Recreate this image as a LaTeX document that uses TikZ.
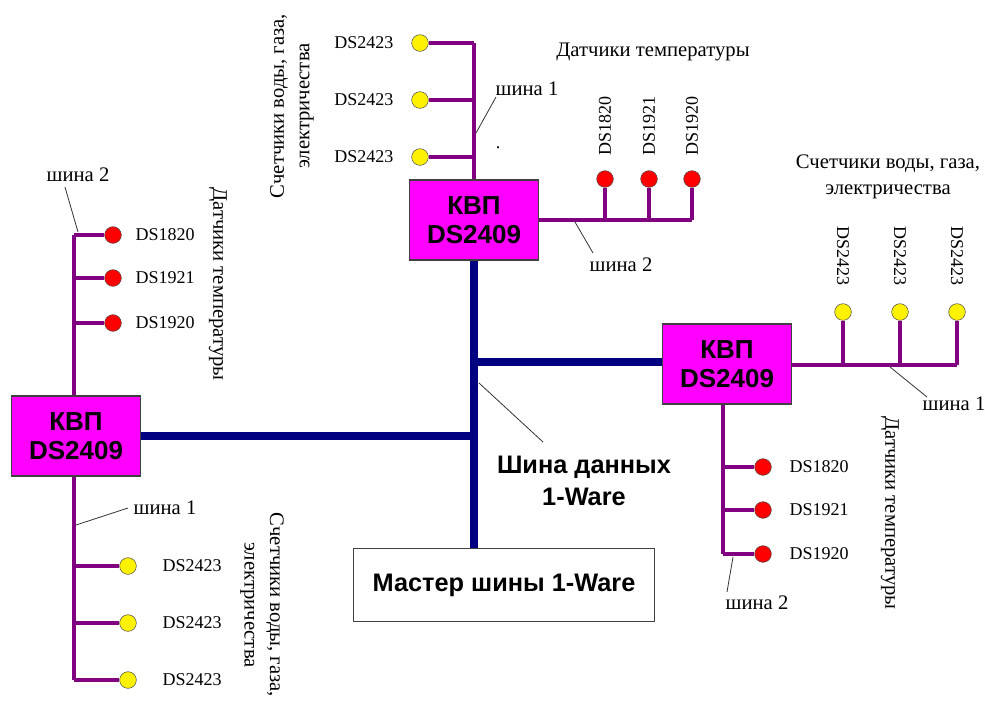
\documentclass[tikz,border=0pt]{standalone}
\usepackage{fontspec}
\setmainfont{Liberation Serif}
\newfontfamily\arialfont{Liberation Sans}
\usepackage{xcolor}
\usetikzlibrary{positioning}

\definecolor{busblue}{RGB}{0,0,128}
\definecolor{netpurple}{RGB}{128,0,128}
\definecolor{boxpink}{RGB}{255,0,255}

\begin{document}
\begin{tikzpicture}[x=0.75pt,y=-0.75pt,
    kvp/.style={draw=black!75, line width=0.8pt, fill=boxpink, minimum width=97pt, minimum height=60pt,
        align=center, font=\arialfont\bfseries\fontsize{19.5}{22}\selectfont},
    master/.style={draw=black!75, line width=0.8pt, fill=white, minimum width=226pt, minimum height=55pt,
        font=\arialfont\bfseries\fontsize{19}{22}\selectfont},
    mainbus/.style={busblue, line width=5.5pt},
    subbus/.style={netpurple, line width=3.3pt},
    ydot/.style={circle, draw=black!70, fill=yellow, inner sep=0pt, minimum size=12.5pt},
    rdot/.style={circle, draw=black!70, fill=red, inner sep=0pt, minimum size=12.5pt},
    lbl/.style={font=\fontsize{13.5}{18}\selectfont},
    cyrlbl/.style={font=\fontsize{15.5}{19}\selectfont},
    lead/.style={black!80, line width=0.6pt}]
    \useasboundingbox (0,0) rectangle (985,701);

    % Boxes
    \node[kvp] (kvpT) at (474,220) {КВП\\DS2409};
    \node[kvp] (kvpL) at (76,436) {КВП\\DS2409};
    \node[kvp] (kvpR) at (727,364) {КВП\\DS2409};
    \node[master] (master) at (504,585) {Мастер шины 1-Ware};

    % Main bus 1-Ware
    \coordinate (jR) at (474,362);
    \coordinate (jL) at (474,436);
    \draw[mainbus] (kvpT.south) -- (kvpT.south |- master.north);
    \draw[mainbus] (jR) -- (kvpR.west |- jR);
    \draw[mainbus] (jL) -- (kvpL.east);
    \coordinate (busTip) at (479,383);
    \coordinate (busLblTip) at (543,442);
    \draw[lead] (busTip) -- (busLblTip);
    \node[align=center, font=\arialfont\bfseries\fontsize{19}{24}\selectfont] (busLbl) at (584,481) {Шина данных\\1-Ware};

    % Top KVP, bus 1: counters
    \coordinate (jT1) at (474,43);
    \coordinate (jT2) at (474,100);
    \coordinate (jT3) at (474,157);
    \draw[subbus] (kvpT.north) -- (jT1);
    \node[ydot] (dT1) at (420,43) {};
    \node[ydot] (dT2) at (420,100) {};
    \node[ydot] (dT3) at (420,157) {};
    \foreach \i in {1,2,3} {
        \draw[subbus] (jT\i) -- (dT\i);
        \node[lbl, left=10pt of dT\i] (lT\i) {DS2423};
    }
    \node[cyrlbl, rotate=90, align=center] (cntT) at (292,106) {Счетчики воды, газа,\\электричества};
    \coordinate (tapT1) at (476,133);
    \coordinate (tipT1) at (496,97);
    \draw[lead] (tapT1) -- (tipT1);
    \node[cyrlbl] (shT1) at (527,89) {шина 1};
    \node[lbl] (dotT) at (498,148) {.};

    % Top KVP, bus 2: temperature sensors
    \coordinate (jTR1) at (605,220);
    \coordinate (jTR2) at (649,220);
    \coordinate (jTR3) at (692,220);
    \draw[subbus] (kvpT.east |- jTR1) -- (jTR3);
    \node[rdot] (dTR1) at (605,179) {};
    \node[rdot] (dTR2) at (649,179) {};
    \node[rdot] (dTR3) at (692,179) {};
    \draw[subbus] (jTR1) -- (dTR1);
    \draw[subbus] (jTR2) -- (dTR2);
    \draw[subbus] (jTR3) -- (dTR3);
    \node[lbl, rotate=90, anchor=west] (lTR1) at (605,160) {DS1820};
    \node[lbl, rotate=90, anchor=west] (lTR2) at (649,160) {DS1921};
    \node[lbl, rotate=90, anchor=west] (lTR3) at (692,160) {DS1920};
    \node[cyrlbl] (tempT) at (653,52) {Датчики температуры};
    \coordinate (tapT2) at (575,222);
    \coordinate (tipT2) at (593,253);
    \draw[lead] (tapT2) -- (tipT2);
    \node[cyrlbl] (shT2) at (621,265) {шина 2};

    % Right KVP, bus 1: counters
    \coordinate (jR1) at (843,365);
    \coordinate (jR2) at (900,365);
    \coordinate (jR3) at (957,365);
    \draw[subbus] (kvpR.east |- jR1) -- (jR3);
    \foreach \i/\x in {1/843,2/900,3/957} {
        \node[ydot] (dR\i) at (\x,312) {};
        \draw[subbus] (jR\i) -- (dR\i);
        \node[lbl, rotate=-90, anchor=east] (lR\i) at (\x,290) {DS2423};
    }
    \node[cyrlbl, align=center] (cntR) at (888,177) {Счетчики воды, газа,\\электричества};
    \coordinate (tapR1) at (890,367);
    \coordinate (tipR1) at (927,397);
    \draw[lead] (tapR1) -- (tipR1);
    \node[cyrlbl] (shR1) at (954,404) {шина 1};

    % Right KVP, bus 2: temperature sensors
    \coordinate (jRB1) at (723,467);
    \coordinate (jRB2) at (723,510);
    \coordinate (jRB3) at (723,554);
    \draw[subbus] (jRB1 |- kvpR.south) -- (jRB3);
    \node[rdot] (dRB1) at (763,467) {};
    \node[rdot] (dRB2) at (763,510) {};
    \node[rdot] (dRB3) at (763,554) {};
    \draw[subbus] (jRB1) -- (dRB1);
    \draw[subbus] (jRB2) -- (dRB2);
    \draw[subbus] (jRB3) -- (dRB3);
    \node[lbl, right=10pt of dRB1] (lRB1) {DS1820};
    \node[lbl, right=10pt of dRB2] (lRB2) {DS1921};
    \node[lbl, right=10pt of dRB3] (lRB3) {DS1920};
    \node[cyrlbl, rotate=-90] (tempR) at (890,513) {Датчики температуры};
    \coordinate (tapR2) at (733,557);
    \coordinate (tipR2) at (727,592);
    \draw[lead] (tapR2) -- (tipR2);
    \node[cyrlbl] (shR2) at (757,603) {шина 2};

    % Left KVP, bus 2: temperature sensors
    \coordinate (jL1) at (74,235);
    \coordinate (jL2) at (74,278);
    \coordinate (jL3) at (74,323);
    \draw[subbus] (jL1 |- kvpL.north) -- (jL1);
    \node[rdot] (dL1) at (113,235) {};
    \node[rdot] (dL2) at (113,278) {};
    \node[rdot] (dL3) at (113,323) {};
    \draw[subbus] (jL1) -- (dL1);
    \draw[subbus] (jL2) -- (dL2);
    \draw[subbus] (jL3) -- (dL3);
    \node[lbl, right=7pt of dL1] (lL1) {DS1820};
    \node[lbl, right=7pt of dL2] (lL2) {DS1921};
    \node[lbl, right=7pt of dL3] (lL3) {DS1920};
    \node[cyrlbl, rotate=-90] (tempL) at (218,284) {Датчики температуры};
    \coordinate (tapL2) at (78,232);
    \coordinate (tipL2) at (65,187);
    \draw[lead] (tapL2) -- (tipL2);
    \node[cyrlbl] (shL2) at (78,175) {шина 2};

    % Left KVP, bus 1: counters
    \coordinate (jLB1) at (74,566);
    \coordinate (jLB2) at (74,623);
    \coordinate (jLB3) at (74,680);
    \draw[subbus] (jLB1 |- kvpL.south) -- (jLB3);
    \node[ydot] (dLB1) at (128,566) {};
    \node[ydot] (dLB2) at (128,623) {};
    \node[ydot] (dLB3) at (128,680) {};
    \foreach \i in {1,2,3} {
        \draw[subbus] (jLB\i) -- (dLB\i);
        \node[lbl, right=16pt of dLB\i] (lLB\i) {DS2423};
    }
    \node[cyrlbl, rotate=-90, align=center] (cntL) at (262,605) {Счетчики воды, газа,\\электричества};
    \coordinate (tapL1) at (76,525);
    \coordinate (tipL1) at (128,508);
    \draw[lead] (tapL1) -- (tipL1);
    \node[cyrlbl] (shL1) at (165,508) {шина 1};
\end{tikzpicture}
\end{document}
